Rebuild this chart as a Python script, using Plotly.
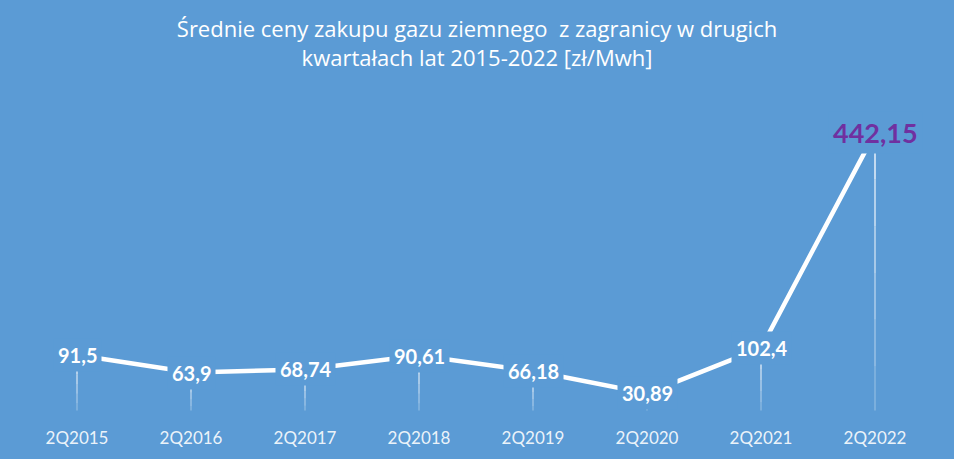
import plotly.graph_objects as go

# Data
quarters = ["2Q2015", "2Q2016", "2Q2017", "2Q2018", "2Q2019", "2Q2020", "2Q2021", "2Q2022"]
prices = [91.5, 63.9, 68.74, 90.61, 66.18, 30.89, 102.4, 442.15]
labels = [str(v).replace(".", ",") for v in prices]

BG = "#5B9BD5"
FONT = "Lato"

fig = go.Figure()

fig.add_trace(go.Scatter(
    x=quarters, y=prices,
    mode="lines",
    line=dict(color="white", width=4.5),
    hoverinfo="skip",
    showlegend=False
))

# drop lines fading towards the axis (a few segments with decreasing opacity)
n_seg = 6
for q, v in zip(quarters, prices):
    for i in range(n_seg):
        y0 = v * i / n_seg
        y1 = v * (i + 1) / n_seg
        fig.add_shape(
            type="line", xref="x", yref="y",
            x0=q, x1=q, y0=max(y0, 4), y1=y1,
            line=dict(color="rgba(255,255,255,%.2f)" % (0.15 + 0.7 * (i + 1) / n_seg), width=1.5),
            layer="below"
        )

# data labels with background boxes covering the line
for q, v, t in zip(quarters, prices, labels):
    last = q == quarters[-1]
    fig.add_annotation(
        x=q, y=v, text="<b>%s</b>" % t,
        showarrow=False,
        bgcolor=BG,
        borderpad=4,
        font=dict(family=FONT, size=27 if last else 20, color="#7030A0" if last else "white")
    )

fig.update_layout(
    width=954, height=459,
    paper_bgcolor=BG, plot_bgcolor=BG,
    margin=dict(l=20, r=22, t=100, b=46),
    title=dict(
        text="Średnie ceny zakupu gazu ziemnego  z zagranicy w drugich<br>kwartałach lat 2015-2022 [zł/Mwh]",
        x=0.5, xanchor="center", y=1 - 37 / 459, yanchor="middle",
        font=dict(family="Open Sans", size=22, color="white")
    ),
    xaxis=dict(
        type="category", range=[-0.5, 7.5],
        showgrid=False, zeroline=False, showline=False,
        ticks="outside", ticklen=10, tickcolor="rgba(0,0,0,0)",
        tickfont=dict(family=FONT, size=17, color="rgba(255,255,255,0.9)")
    ),
    yaxis=dict(
        range=[0, 494], showgrid=False, zeroline=False,
        showticklabels=False, showline=False
    )
)

fig.write_html(
    "out.html",
    config={"displayModeBar": False},
    post_script="document.body.style.margin='0';document.body.style.overflow='hidden';"
)
